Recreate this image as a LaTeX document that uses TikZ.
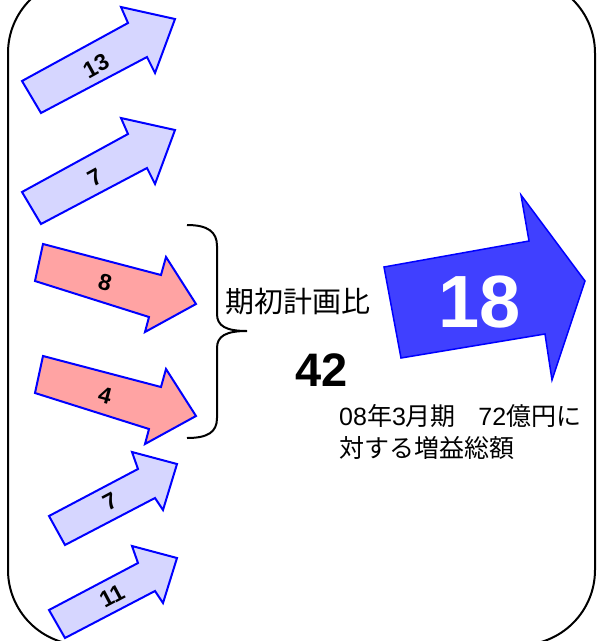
\documentclass[tikz,border=0pt]{standalone}
\usepackage{fontspec}
\setmainfont{Liberation Sans}
\newfontfamily\cjk{Noto Sans CJK JP}
\begin{document}
\begin{tikzpicture}[x=1pt,y=-1pt,
  bluearrow/.style={draw=blue,line width=2pt,fill={rgb,255:red,214;green,214;blue,255},line join=miter},
  pinkarrow/.style={draw=blue,line width=2pt,fill={rgb,255:red,255;green,163;blue,163},line join=miter},
  bigarrow/.style={draw=blue,line width=1.5pt,fill={rgb,255:red,64;green,64;blue,255},line join=miter},
  numlabel/.style={font=\fontsize{23}{23}\selectfont\bfseries,inner sep=0pt},
  frame/.style={draw=black,line width=2pt,rounded corners=75pt}]
\useasboundingbox (0,0) rectangle (599,641);
% frame
\draw[frame] (8,-22) rectangle (595,645);
% blue arrows (top)
\draw[bluearrow] (22,81) -- (128,23) -- (121,7) -- (175,19) -- (155,73) -- (147,57) -- (41,113) -- cycle;
\node[numlabel,rotate=29] (n13) at (96,66) {13};
\draw[bluearrow] (22,192) -- (128,134) -- (121,118) -- (175,130) -- (155,184) -- (147,168) -- (41,224) -- cycle;
\node[numlabel,rotate=29] (n7a) at (95,177) {7};
% pink arrows
\draw[pinkarrow] (43,244) -- (161,275) -- (166,257) -- (196,304) -- (145,332) -- (149,317) -- (35,281) -- cycle;
\node[numlabel,rotate=-15] (n8) at (105,283) {8};
\draw[pinkarrow] (43,356) -- (161,387) -- (166,369) -- (196,416) -- (145,444) -- (149,429) -- (35,393) -- cycle;
\node[numlabel,rotate=-15] (n4) at (105,396) {4};
% blue arrows (bottom)
\draw[bluearrow] (49,516) -- (138,469) -- (132,452) -- (177,464) -- (163,510) -- (155,498) -- (65,545) -- cycle;
\node[numlabel,rotate=28] (n7b) at (110,502) {7};
\draw[bluearrow] (49,610) -- (138,563) -- (132,546) -- (177,558) -- (163,603) -- (155,591) -- (65,638) -- cycle;
\node[numlabel,rotate=28] (n11) at (112,596) {11};
% brace
\draw[line width=2pt] (187,225) .. controls (208,225) and (217,232) .. (217,246) -- (217,314)
  .. controls (217,326) and (226,331) .. (247,331)
  .. controls (226,331) and (217,336) .. (217,348) -- (217,418)
  .. controls (217,432) and (208,438) .. (187,438);
% texts
\node[anchor=west,inner sep=0pt,font=\cjk\fontsize{29}{29}\selectfont] (plan) at (225,302) {期初計画比};
\node[inner sep=0pt,font=\fontsize{47}{47}\selectfont\bfseries] (v42) at (322,370) {42};
% big arrow
\draw[bigarrow] (384,267) -- (529,241) -- (521,195) -- (585,281) -- (552,380) -- (545,334) -- (401,358) -- cycle;
\node[inner sep=0pt,text=white,font=\fontsize{74}{74}\selectfont\bfseries] (v18) at (480,302) {18};
\node[anchor=north west,inner sep=0pt,align=left,font=\fontsize{25}{32}\selectfont] (desc) at (339,404)
  {08{\cjk 年}3{\cjk 月期}\hspace{0.9em}72{\cjk 億円に}\\{\cjk 対する増益総額}};
\end{tikzpicture}
\end{document}
